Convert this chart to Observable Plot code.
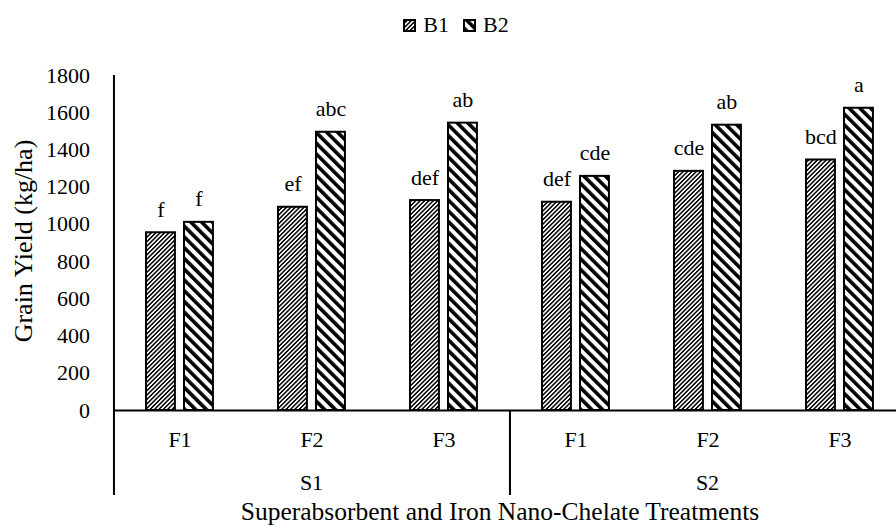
<!DOCTYPE html>
<html>
<head>
<meta charset="utf-8">
<script src="https://cdn.jsdelivr.net/npm/d3@7"></script>
<script src="https://cdn.jsdelivr.net/npm/@observablehq/plot@0.6"></script>
<style>
  html, body { margin: 0; padding: 0; background: #fff; overflow: hidden; }
  body { font-family: 'Liberation Serif', serif; color: #000; width: 906px; }
  #legend { width: 906px; height: 45px; padding-top: 5px; padding-left: 6px; box-sizing: border-box;
            display: flex; justify-content: center; align-items: center; font-size: 22px;
            font-family: 'Liberation Serif', serif; }
  #legend .item { display: flex; align-items: center; }
  #legend svg { display: block; margin-right: 7px; }
  #legend .item + .item { margin-left: 14px; }
  #chart { width: 905px; height: 452px; overflow: visible; }
  #chart svg { display: block; max-width: none !important; width: 905px !important; height: 452px !important; }
  #caption { width: 906px; height: 30px; line-height: 30px; padding-left: 94px; box-sizing: border-box;
             text-align: center; font-size: 25.5px; white-space: nowrap; font-family: 'Liberation Serif', serif; }
  #chart svg, #chart svg text { font-family: 'Liberation Serif', serif !important; }
</style>
</head>
<body>
<div id="legend"></div>
<div id="chart"></div>
<div id="caption">Superabsorbent and Iron Nano-Chelate Treatments</div>
<script>
// ---- data ----
const sGroups = ["S1", "S2"];
const fLevels = ["F1", "F2", "F3"];
const seriesNames = ["B1", "B2"];
// order: S1F1, S1F2, S1F3, S2F1, S2F2, S2F3
const b1Values = [955, 1092, 1128, 1119, 1285, 1346];
const b2Values = [1011, 1495, 1544, 1258, 1533, 1624];
const b1Letters = ["f", "ef", "def", "def", "cde", "bcd"];
const b2Letters = ["f", "abc", "ab", "cde", "ab", "a"];
const yTicks = [0, 200, 400, 600, 800, 1000, 1200, 1400, 1600, 1800];
const yTitle = "Grain Yield (kg/ha)";

// ---- table built from the arrays ----
const rows = [];
sGroups.forEach((s, i) => fLevels.forEach((f, j) => {
  const k = i * fLevels.length + j;
  rows.push({S: s, F: f, B: "B1", value: b1Values[k], letter: b1Letters[k]});
  rows.push({S: s, F: f, B: "B2", value: b2Values[k], letter: b2Letters[k]});
}));
const cells = [];
sGroups.forEach(s => fLevels.forEach(f => cells.push({S: s, F: f})));

// ---- layout ----
const width = 905, height = 452, marginLeft = 112.5, marginRight = 0, marginTop = 30, marginBottom = 2;
const yMax = d3.max(yTicks);
const yLow = -yMax * 85 / 335;             // room below the axis for category labels
const bandW = (width - marginLeft - marginRight) / sGroups.length / fLevels.length;
const barW = 29;
const inset = {B1: [32.5, bandW - 32.5 - barW], B2: [70.5, bandW - 70.5 - barW]};
const centerDx = {B1: 32.5 + barW / 2 - bandW / 2, B2: 70.5 + barW / 2 - bandW / 2};
const fills = {B1: "url(#pB1)", B2: "url(#pB2)"};
const font = "'Liberation Serif', serif";

const marks = [];
for (const b of seriesNames) {
  const data = rows.filter(d => d.B === b);
  marks.push(Plot.barY(data, {fx: "S", x: "F", y: "value", fill: fills[b], stroke: "#000", strokeWidth: 2,
    insetLeft: inset[b][0], insetRight: inset[b][1]}));
  marks.push(Plot.text(data, {fx: "S", x: "F", y: "value", text: "letter", dx: centerDx[b], dy: -16,
    lineAnchor: "bottom", fontSize: 22, fill: "#000", fontFamily: font}));
}
marks.push(
  Plot.ruleY([0], {stroke: "#000", strokeWidth: 2}),
  // vertical axis / group separators
  Plot.ruleX(sGroups, {fx: d => d, x: () => fLevels[0], dx: -bandW / 2, y1: () => yLow,
    y2: d => d === sGroups[0] ? yMax : 0, stroke: "#000", strokeWidth: 2}),
  // category labels
  Plot.text(cells, {fx: "S", x: "F", y: () => 0, text: "F", dy: 29.5, fontSize: 22, fill: "#000", fontFamily: font}),
  Plot.text(sGroups, {fx: d => d, frameAnchor: "bottom", lineAnchor: "middle", textAnchor: "middle",
    text: d => d, dy: -12.5, fontSize: 22, fill: "#000", fontFamily: font}),
  // y title
  Plot.text([yTitle], {fx: () => sGroups[0], frameAnchor: "left", textAnchor: "middle", lineAnchor: "middle",
    y: () => d3.mean(yTicks), text: d => d, rotate: -90, dx: -89.5, dy: -2, fontSize: 26, fill: "#000", fontFamily: font})
);

const chart = Plot.plot({
  width, height, marginLeft, marginRight, marginTop, marginBottom,
  style: {fontFamily: font, fontSize: "22px", color: "#000", background: "#fff", overflow: "visible", maxWidth: "none"},
  fx: {axis: null, padding: 0, domain: sGroups},
  x: {axis: null, padding: 0, domain: fLevels},
  y: {domain: [yLow, yMax], ticks: yTicks, tickFormat: d => String(d), tickSize: 0, tickPadding: 23.5, label: null},
  marks
});

// hatch patterns
function addPatterns(svg, prefix) {
  const defs = d3.select(svg).insert("defs", ":first-child");
  const p1 = defs.append("pattern").attr("id", prefix + "B1").attr("patternUnits", "userSpaceOnUse")
    .attr("width", 3.1).attr("height", 3.1).attr("patternTransform", "rotate(45)");
  p1.append("rect").attr("width", 3.1).attr("height", 3.1).attr("fill", "#fff");
  p1.append("rect").attr("width", 1.5).attr("height", 3.1).attr("fill", "#000");
  const p2 = defs.append("pattern").attr("id", prefix + "B2").attr("patternUnits", "userSpaceOnUse")
    .attr("width", 7.6).attr("height", 7.6).attr("patternTransform", "rotate(-45)");
  p2.append("rect").attr("width", 7.6).attr("height", 7.6).attr("fill", "#fff");
  p2.append("rect").attr("width", 3.6).attr("height", 7.6).attr("fill", "#000");
}
addPatterns(chart, "p");
document.getElementById("chart").appendChild(chart);

// legend
const legend = d3.select("#legend");
seriesNames.forEach(b => {
  const item = legend.append("div").attr("class", "item");
  const sw = item.append("svg").attr("width", 13).attr("height", 13);
  addPatterns(sw.node(), "l" + b + "_");
  sw.append("rect").attr("x", 1).attr("y", 1).attr("width", 11).attr("height", 11)
    .attr("fill", `url(#l${b}_${b})`).attr("stroke", "#000").attr("stroke-width", 2);
  item.append("span").text(b);
});
</script>
</body>
</html>
